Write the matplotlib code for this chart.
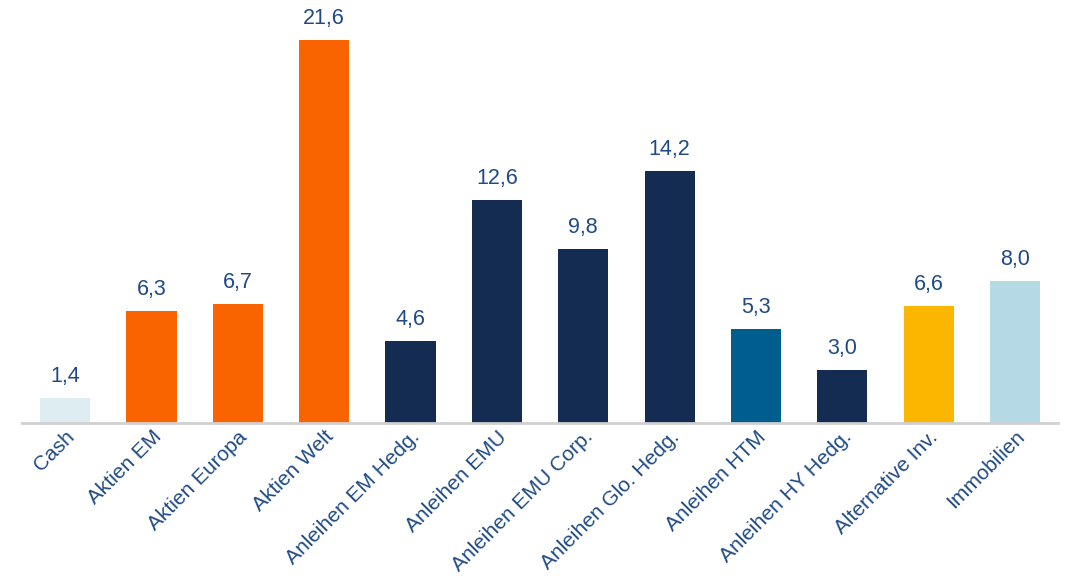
import matplotlib.pyplot as plt

plt.rcParams['font.family'] = ['Liberation Sans', 'DejaVu Sans']

categories = ['Cash', 'Aktien EM', 'Aktien Europa', 'Aktien Welt', 'Anleihen EM Hedg.',
              'Anleihen EMU', 'Anleihen EMU Corp.', 'Anleihen Glo. Hedg.', 'Anleihen HTM',
              'Anleihen HY Hedg.', 'Alternative Inv.', 'Immobilien']
values = [1.4, 6.3, 6.7, 21.6, 4.6, 12.6, 9.8, 14.2, 5.3, 3.0, 6.6, 8.0]
colors = ['#DDEDF1', '#FA6400', '#FA6400', '#FA6400', '#142B52', '#142B52', '#142B52',
          '#142B52', '#005E8E', '#142B52', '#FBB600', '#B5D9E5']

text_color = '#1F4A85'

fig = plt.figure(figsize=(10.71, 5.79), dpi=100)
ax = fig.add_axes([0.0205, 0.2694, 0.9675, 0.7306])

x = range(len(categories))
ax.bar(x, values, width=0.58, color=colors)

for i, v in enumerate(values):
    ax.annotate(f'{v:.1f}'.replace('.', ','), xy=(i, v), xytext=(0, 8),
                textcoords='offset points', ha='center', va='bottom',
                fontsize=15.5, color=text_color)

ax.set_xlim(-0.5, len(categories) - 0.5)
ax.set_ylim(0, 23.86)
ax.set_xticks(list(x))
ax.set_xticklabels(categories, rotation=45, ha='right', rotation_mode='anchor',
                   fontsize=15, color=text_color)
ax.tick_params(axis='x', length=0, pad=3)
ax.set_yticks([])

for side in ['top', 'right', 'left']:
    ax.spines[side].set_visible(False)
ax.spines['bottom'].set_color('#D0D0D0')
ax.spines['bottom'].set_linewidth(2)

fig.savefig('out.png', dpi=100)
